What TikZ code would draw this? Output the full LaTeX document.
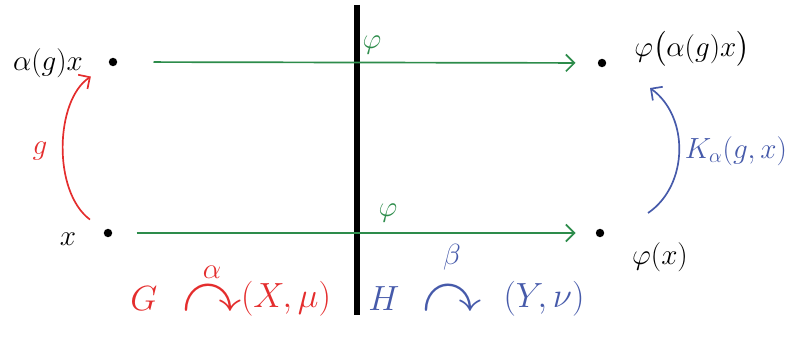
\documentclass[tikz,border=0pt]{standalone}
\usepackage{amsmath, amssymb}
\usetikzlibrary{arrows.meta, positioning}
\definecolor{penRed}{RGB}{228, 45, 45}
\definecolor{penGreen}{RGB}{45, 140, 75}
\definecolor{penBlue}{RGB}{70, 90, 170}

\begin{document}
\begin{tikzpicture}[
    dot/.style={circle, fill=black, inner sep=0pt, minimum size=6pt},
    lbl/.style={font=\huge},
    barb/.style={-{Straight Barb[length=6pt, width=12pt]}, line width=1.2pt},
    act/.style={inner sep=1pt, font=\Huge},
  ]
  \useasboundingbox (0,0) rectangle (19.7,8.575);
  % the two sides
  \draw[line width=4pt] (8.925,8.45) -- (8.925,0.7);
  % points
  \node[dot] (ax) at (2.825,7.025) {};
  \node[dot] (x) at (2.7,2.75) {};
  \node[dot] (phax) at (15.05,7.0) {};
  \node[dot] (phx) at (15.0,2.75) {};
  \coordinate (kb) at (16.2,3.25);
  \coordinate (kt) at (16.25,6.375);
  \node[lbl] (axl) at (1.2,7.0) {$\alpha(g)x$};
  \node[lbl] (xl) at (1.7,2.6) {$x$};
  \node[lbl] (phaxl) at (17.3,7.35) {$\varphi\bigl(\alpha(g)x\bigr)$};
  \node[lbl] (phxl) at (16.5,2.15) {$\varphi(x)$};
  % phi arrows
  \draw[barb, penGreen, shorten <=0.9cm, shorten >=0.55cm] (ax) -- (phax);
  \node[lbl, penGreen] (ph1) at (9.3,7.45) {$\varphi$};
  \draw[barb, penGreen, shorten <=0.6cm, shorten >=0.5cm] (x) -- (phx);
  \node[lbl, penGreen] (ph2) at (9.7,3.25) {$\varphi$};
  % g and the cocycle
  \draw[barb, penRed, shorten <=0.45cm, shorten >=0.55cm] (x) to[bend left=55] (ax);
  \node[lbl, penRed] (g) at (1.0,4.8) {$g$};
  \draw[barb, penBlue] (kb) to[bend right=55] (kt);
  \node[lbl, penBlue] (k) at (18.4,4.8) {$K_\alpha(g,x)$};
  % actions
  \node[act, penRed] (gG) at (3.6,1.1) {$G$};
  \node[act, penRed] (ga) at (5.3,1.1) {\scalebox{1.7}{$\curvearrowright$}};
  \node[lbl, penRed, above=3pt of ga, inner sep=1pt] (gal) {$\alpha$};
  \node[act, penRed] (gX) at (7.15,1.1) {$(X,\mu)$};
  \node[act, penBlue] (hH) at (9.6,1.1) {$H$};
  \node[act, penBlue] (hb) at (11.3,1.1) {\scalebox{1.7}{$\curvearrowright$}};
  \node[lbl, penBlue, above=9pt of hb, inner sep=1pt] (hbl) {$\beta$};
  \node[act, penBlue] (hY) at (13.6,1.1) {$(Y,\nu)$};
\end{tikzpicture}
\end{document}
